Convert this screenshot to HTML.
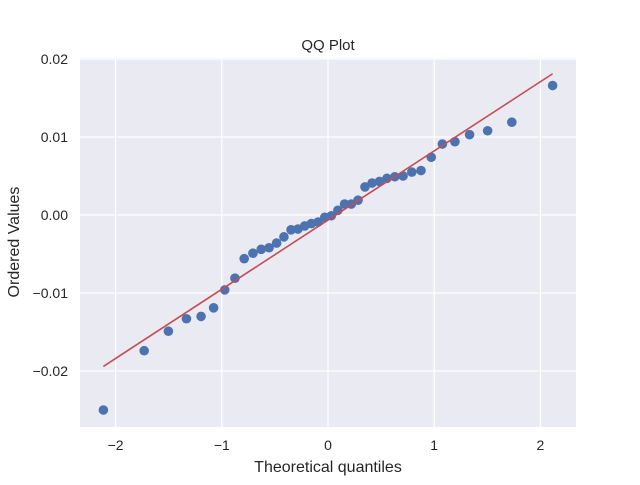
<!DOCTYPE html>
<html><head><meta charset="utf-8"><style>
body{margin:0;background:#fff;}
svg text{font-family:"Liberation Sans","DejaVu Sans",sans-serif;fill:#262626;}
</style></head><body>
<svg id="chart" width="640" height="480" xmlns="http://www.w3.org/2000/svg">
<rect x="80" y="58" width="496" height="369" fill="#eaeaf2"/>
<g id="grid"></g><g id="ticks"></g><g id="marks"></g>
<text x="328" y="50" text-anchor="middle" font-size="15">QQ Plot</text>
<text x="328" y="472" text-anchor="middle" font-size="16">Theoretical quantiles</text>
<text x="19" y="242" text-anchor="middle" font-size="16" transform="rotate(-90 19 242)">Ordered Values</text>
</svg>
<script>
const theoretical=[-2.115,-1.731,-1.503,-1.333,-1.195,-1.077,-0.972,-0.876,-0.789,-0.707,-0.629,-0.555,-0.484,-0.415,-0.348,-0.283,-0.219,-0.156,-0.093,-0.031,0.031,0.093,0.156,0.219,0.283,0.348,0.415,0.484,0.555,0.629,0.707,0.789,0.876,0.972,1.077,1.195,1.333,1.503,1.731,2.115];
const ordered=[-0.0250,-0.0174,-0.0149,-0.0133,-0.0130,-0.0119,-0.0096,-0.0081,-0.0056,-0.0049,-0.0044,-0.0042,-0.0036,-0.0028,-0.0019,-0.0018,-0.0014,-0.0011,-0.0009,-0.0003,-0.0001,0.0006,0.0014,0.0014,0.0019,0.0036,0.0041,0.0043,0.0047,0.0049,0.0050,0.0055,0.0057,0.0074,0.0091,0.0094,0.0103,0.0108,0.0119,0.0166];
const fitSlope=0.00887;
const fitIntercept=-0.00065;
const xTicks=[-2,-1,0,1,2];
const xTickLabels=["−2","−1","0","1","2"];
const yTicks=[-0.02,-0.01,0,0.01,0.02];
const yTickLabels=["−0.02","−0.01","0.00","0.01","0.02"];
const NS="http://www.w3.org/2000/svg";
const X=v=>328+v*106.2;
const Y=v=>215-v*7800;
function mk(tag,attrs,parent,text){const e=document.createElementNS(NS,tag);for(const k in attrs)e.setAttribute(k,attrs[k]);if(text!==undefined)e.textContent=text;document.getElementById(parent).appendChild(e);return e;}
xTicks.forEach((t,i)=>{
 const l=mk('line',{x1:X(t),x2:X(t),y1:58,y2:427,stroke:'#fff','stroke-width':1.2},'grid');
 
 
 const tx=mk('text',{x:X(t),y:450,'text-anchor':'middle','font-size':14},'ticks',xTickLabels[i]);
 
 
});
yTicks.forEach((t,i)=>{
 const l=mk('line',{x1:80,x2:576,y1:Y(t),y2:Y(t),stroke:'#fff','stroke-width':1.2},'grid');
 
 
 const tx=mk('text',{x:68,y:Y(t)+5,'text-anchor':'end','font-size':14},'ticks',yTickLabels[i]);
 
 
});
theoretical.forEach((q,i)=>{
 const c=mk('circle',{cx:X(q),cy:Y(ordered[i]),r:4.8,fill:'#4c72b0'},'marks');
 
 
});
const x0=theoretical[0],x1=theoretical[theoretical.length-1];
const fl=mk('line',{x1:X(x0),y1:Y(fitSlope*x0+fitIntercept),x2:X(x1),y2:Y(fitSlope*x1+fitIntercept),stroke:'#c44e52','stroke-width':1.6},'marks');


</script>
</body></html>
